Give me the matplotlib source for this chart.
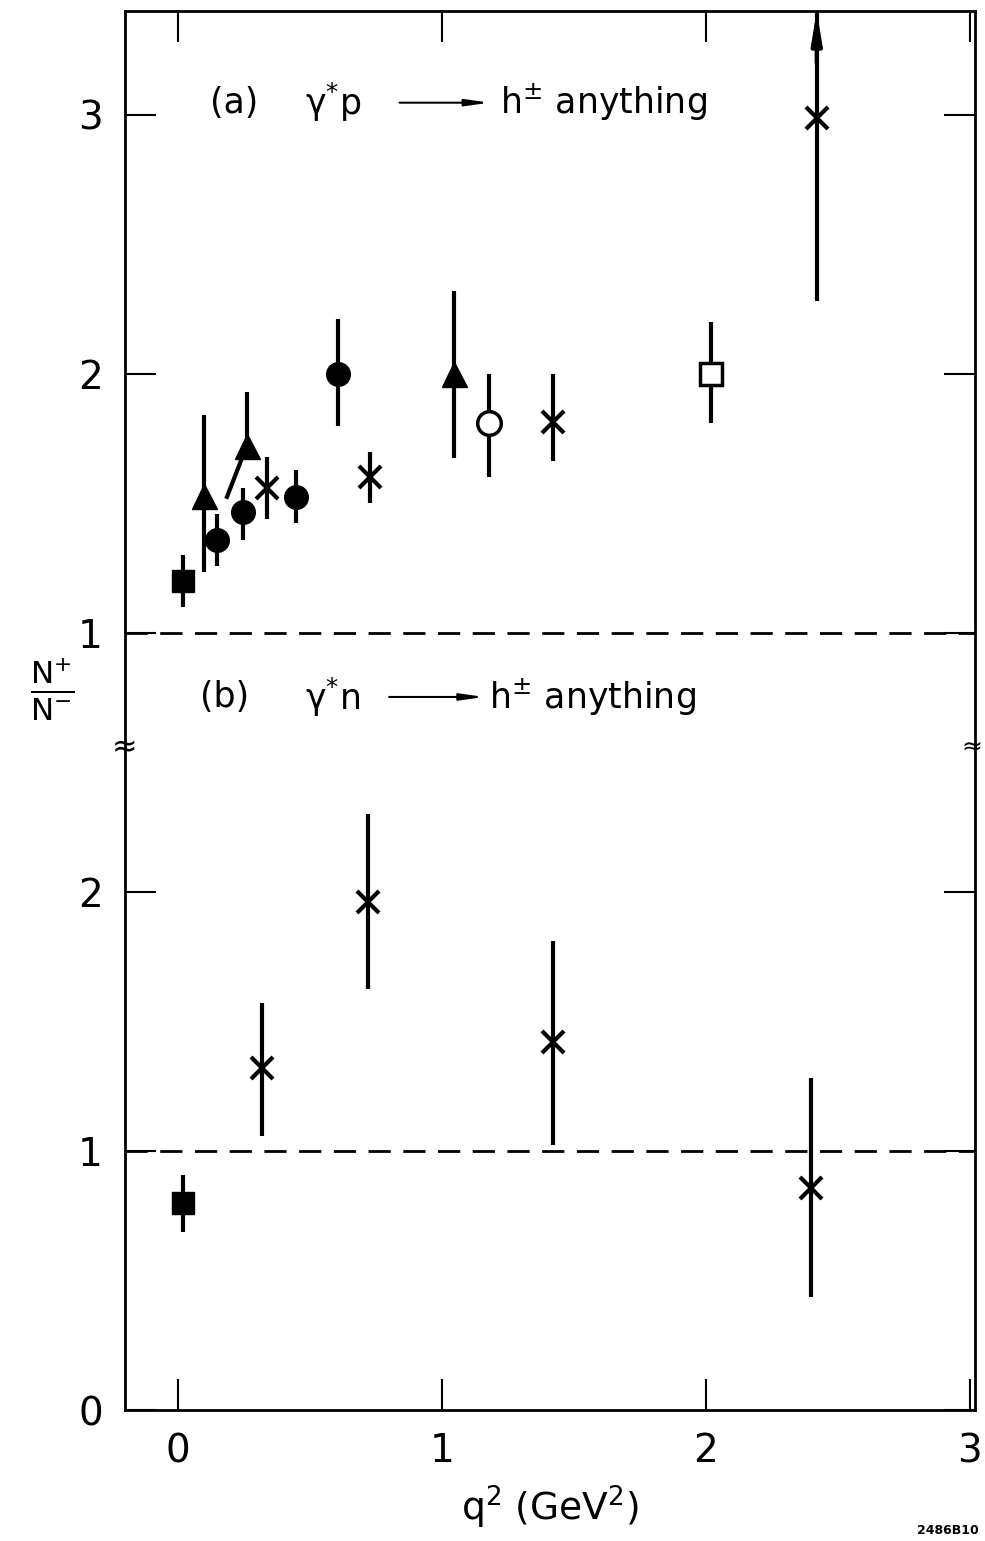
import matplotlib.pyplot as plt

# (a) gamma* p -> h+- anything
a_sq_x = [0.02]
a_sq_y = [1.20]
a_sq_lo = [1.10]
a_sq_hi = [1.30]

a_tri_x = [0.10, 0.26, 1.045]
a_tri_y = [1.53, 1.72, 2.00]
a_tri_lo = [1.235, 1.72, 1.675]
a_tri_hi = [1.84, 1.93, 2.32]
a_tilt_x = [0.26, 0.186]
a_tilt_y = [1.72, 1.525]

a_dot_x = [0.15, 0.246, 0.447, 0.606]
a_dot_y = [1.36, 1.467, 1.525, 2.00]
a_dot_lo = [1.26, 1.36, 1.425, 1.80]
a_dot_hi = [1.46, 1.56, 1.63, 2.21]

a_oc_x = [1.18]
a_oc_y = [1.81]
a_oc_lo = [1.60]
a_oc_hi = [2.00]

a_os_x = [2.02]
a_os_y = [2.00]
a_os_lo = [1.81]
a_os_hi = [2.20]

a_x_x = [0.337, 0.727, 1.42, 2.42]
a_x_y = [1.56, 1.60, 1.815, 2.985]
a_x_lo = [1.44, 1.50, 1.665, 2.28]
a_x_hi = [1.68, 1.70, 2.00, 3.40]

# (b) gamma* n -> h+- anything
b_sq_x = [0.02]
b_sq_y = [0.80]
b_sq_lo = [0.687]
b_sq_hi = [0.907]

b_x_x = [0.32, 0.72, 1.42, 2.40]
b_x_y = [1.32, 1.96, 1.42, 0.857]
b_x_lo = [1.058, 1.625, 1.023, 0.436]
b_x_hi = [1.57, 2.30, 1.81, 1.28]


def err(y, lo, hi):
    return [[v - l for v, l in zip(y, lo)], [h - v for v, h in zip(y, hi)]]


fig = plt.figure(figsize=(9.85, 15.41), dpi=100)
ax_b = fig.add_axes([0.127, 0.085, 0.863, 0.4296])
ax_a = fig.add_axes([0.127, 0.5146, 0.863, 0.4783])

bar = dict(color='k', elinewidth=3, capsize=0, ls='none')

ax_a.plot(a_tilt_x, a_tilt_y, color='k', lw=3)
ax_a.errorbar(a_sq_x, a_sq_y, yerr=err(a_sq_y, a_sq_lo, a_sq_hi), marker='s', ms=16, **bar)
ax_a.errorbar(a_tri_x, a_tri_y, yerr=err(a_tri_y, a_tri_lo, a_tri_hi), marker='^', ms=18, **bar)
ax_a.errorbar(a_dot_x, a_dot_y, yerr=err(a_dot_y, a_dot_lo, a_dot_hi), marker='o', ms=17, **bar)
ax_a.errorbar(a_oc_x, a_oc_y, yerr=err(a_oc_y, a_oc_lo, a_oc_hi), marker='o', ms=17,
              mfc='white', mew=2.5, **bar)
ax_a.errorbar(a_os_x, a_os_y, yerr=err(a_os_y, a_os_lo, a_os_hi), marker='s', ms=16,
              mfc='white', mew=2.5, **bar)
ax_a.errorbar(a_x_x, a_x_y, yerr=err(a_x_y, a_x_lo, a_x_hi), marker='x', ms=16, mew=3, **bar)
# arrow on the last point (value goes off scale)
ax_a.annotate('', xy=(a_x_x[-1], a_x_hi[-1]), xytext=(a_x_x[-1], a_x_hi[-1] - 0.2),
              arrowprops=dict(arrowstyle='-|>,head_length=1.8,head_width=0.3',
                              color='k', lw=3, shrinkA=0, shrinkB=0),
              annotation_clip=False)

ax_b.errorbar(b_sq_x, b_sq_y, yerr=err(b_sq_y, b_sq_lo, b_sq_hi), marker='s', ms=16, **bar)
ax_b.errorbar(b_x_x, b_x_y, yerr=err(b_x_y, b_x_lo, b_x_hi), marker='x', ms=16, mew=3, **bar)

for ax in (ax_a, ax_b):
    ax.set_facecolor('none')
    ax.axhline(1, color='k', lw=2, dashes=(8, 4.5))
    ax.set_xlim(-0.2, 3.02)
    ax.set_xticks([0, 1, 2, 3])
    ax.tick_params(direction='in', length=22, width=1.5, right=True, labelsize=28, pad=16)
    for s in ax.spines.values():
        s.set_linewidth(2)

ax_a.set_ylim(0.556, 3.40)
ax_a.set_yticks([1, 2, 3])
ax_a.spines['bottom'].set_visible(False)
ax_a.tick_params(top=True, bottom=False, labelbottom=False)

ax_b.set_ylim(0, 2.556)
ax_b.set_yticks([0, 1, 2])
ax_b.spines['top'].set_visible(False)
ax_b.tick_params(top=False)
ax_b.set_xlabel('q$^2$ (GeV$^2$)', fontsize=27, labelpad=10)

# panel labels
ax_a.text(0.12, 3.046, '(a)', fontsize=25, va='center')
ax_a.text(0.48, 3.046, 'γ$^{*}$p', fontsize=25, va='center')
ax_a.annotate('', xy=(1.18, 3.046), xytext=(0.84, 3.046),
              arrowprops=dict(arrowstyle='-|>,head_length=1.4,head_width=0.2',
                              color='k', lw=1.5, shrinkA=0, shrinkB=0))
ax_a.text(1.22, 3.046, 'h$^{\\pm}$ anything', fontsize=25, va='center')

ax_b.text(0.083, 2.753, '(b)', fontsize=25, va='center')
ax_b.text(0.48, 2.753, 'γ$^{*}$n', fontsize=25, va='center')
ax_b.annotate('', xy=(1.16, 2.753), xytext=(0.80, 2.753),
              arrowprops=dict(arrowstyle='-|>,head_length=1.4,head_width=0.2',
                              color='k', lw=1.5, shrinkA=0, shrinkB=0),
              annotation_clip=False)
ax_b.text(1.18, 2.753, 'h$^{\\pm}$ anything', fontsize=25, va='center')

# axis break marks and y label
fig.text(125 / 985, 1 - 748 / 1541, '≈', fontsize=22, ha='center', va='center')
fig.text(972 / 985, 1 - 748 / 1541, '≈', fontsize=18, ha='center', va='center')
fig.text(52 / 985, 1 - 690 / 1541, r'$\frac{\mathrm{N}^{+}}{\mathrm{N}^{-}}$', fontsize=32,
         ha='center', va='center')
fig.text(948 / 985, 1 - 1530 / 1541, '2486B10', fontsize=9, fontweight='bold',
         ha='center', va='center')

fig.savefig('out.png', dpi=100)
